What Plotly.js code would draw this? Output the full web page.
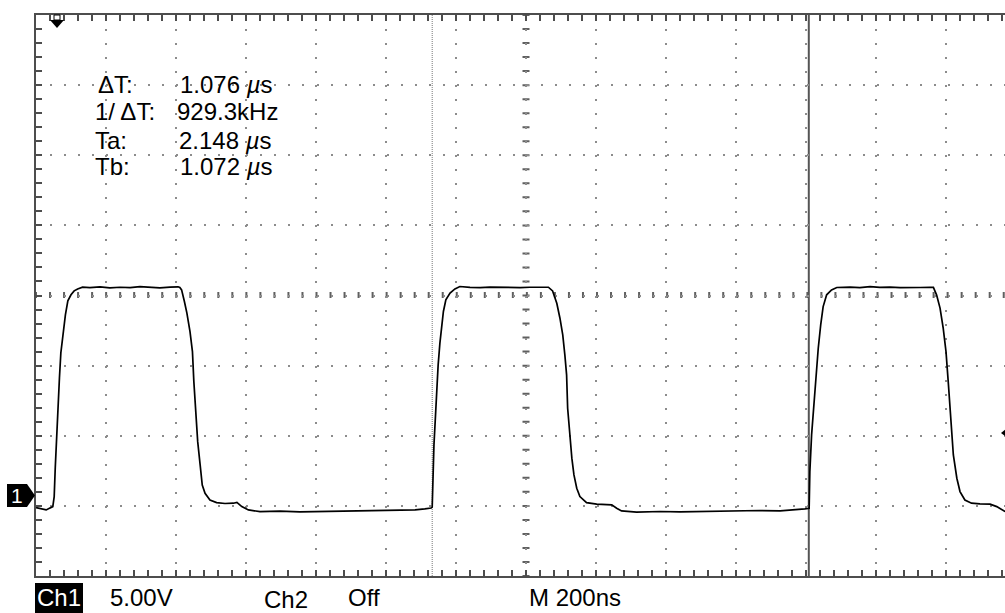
<!DOCTYPE html>
<html>
<head>
<meta charset="utf-8">
<script src="https://cdn.plot.ly/plotly-3.0.1.min.js"></script>
<style>
html,body{margin:0;padding:0;overflow:hidden;background:#fff;}
#chart{width:1025px;height:613px;}
</style>
</head>
<body>
<div id="chart"></div>
<script>
// ---- data (time in ns, Ch1 in volts) ----
var timeNs = [-60,-31,-12,-8,-5,-1,3,7,11,16,24,31,40,49,59,73,94,123,151,180,209,237,266,294,323,346,
  351,356,364,371,380,387,391,396,402,409,415,423,437,456,480,504,514,528,547,580,637,694,751,809,866,923,980,1023,1051,1069,
  1072,1074,1077,1082,1085,1089,1094,1099,1104,1111,1123,1137,1151,1180,1209,1237,1266,1294,1323,1351,1380,1397,
  1404,1416,1428,1437,1445,1451,1456,1459,1464,1471,1477,1485,1494,1513,1542,1566,1585,1599,1613,1656,1723,1780,1837,1894,1951,2009,2066,2109,2137,2149,
  2151,2156,2163,2169,2175,2182,2189,2199,2213,2228,2266,2294,2323,2351,2380,2409,2437,2466,2494,
  2504,2513,2523,2532,2540,2547,2553,2561,2571,2580,2594,2613,2637,2666,2685,2709];
var ch1Volts = [-0.91,-1.07,-0.83,-0.12,1.93,4.28,6.92,8.35,10.13,11.29,12.84,13.84,14.27,14.55,14.69,14.81,14.78,14.84,14.77,14.81,14.78,14.85,14.80,14.77,14.82,14.84,
  14.79,14.62,13.79,12.98,11.65,10.22,8.08,5.71,3.80,2.14,0.71,0.12,-0.36,-0.55,-0.61,-0.59,-0.53,-0.83,-1.07,-1.19,-1.16,-1.21,-1.18,-1.20,-1.14,-1.11,-1.11,-1.07,-1.00,-0.93,
  -0.86,1.43,3.57,5.94,7.85,9.27,10.82,12.13,13.08,13.91,14.39,14.69,14.86,14.80,14.78,14.82,14.79,14.81,14.78,14.81,14.79,14.82,
  14.81,14.55,13.67,12.60,11.41,9.99,8.56,6.18,4.52,2.62,1.43,0.48,-0.12,-0.55,-0.66,-0.68,-0.71,-0.95,-1.14,-1.23,-1.18,-1.21,-1.18,-1.20,-1.14,-1.11,-1.13,-1.07,-1.00,-0.95,
  1.66,4.28,6.66,8.56,10.46,12.13,13.43,14.27,14.62,14.79,14.82,14.78,14.85,14.80,14.82,14.78,14.81,14.79,14.81,
  14.80,14.27,13.32,11.89,10.22,7.85,5.47,2.85,1.19,0.24,-0.36,-0.59,-0.64,-0.66,-0.83,-1.19];

// cursor / readout values
var cursorTbNs = 1072;   // Tb
var cursorTaNs = 2148;   // Ta
var triggerTimeNs = 0;
var triggerLevelV = 4.42;
var readoutLabels = ['\u0394T:', '1/ \u0394T:', 'Ta:', 'Tb:'];
var readoutValues = ['1.076 <i>\u00b5</i>s', '929.3kHz', '2.148 <i>\u00b5</i>s', '1.072 <i>\u00b5</i>s'];
var statusTexts = ['Ch1', '5.00V', 'Ch2', 'Off', 'M 200ns'];

// ---- geometry (layout only) ----
var W = 1025, H = 613, L = 36, T = 15, B = 37;
var PW = W - L, PH = H - T - B;       // 989 x 561
var nsPerPx = 200 / 70;                // 200 ns per 70 px division
var voltsPerPx = 5 / (PH / 8);         // 5 V per division, 8 divisions
var xMin = -60, xMax = xMin + PW * nsPerPx;
var yMin = -5.78, yMax = yMin + PH * voltsPerPx;
function fx(px){ return (px - L) / PW; }
function fy(py){ return (T + PH - py) / PH; }
function tx(px){ return xMin + (px - L) * nsPerPx; }
var minorPx = PH / 40;                 // dot spacing
var dotDash = '2px,' + (minorPx - 2).toFixed(3) + 'px';

var FONT = 'Liberation Sans, Arial, Helvetica, sans-serif';

var trace = {
  x: timeNs, y: ch1Volts, type: 'scatter', mode: 'lines',
  line: {color: '#000000', width: 1.7}, hoverinfo: 'skip', showlegend: false
};

var annotations = [];
var rowsY = [85, 112, 140, 166];
var labelX = [96, 93, 93, 93];
var valueX = [178, 175, 177, 178];
for (var i = 0; i < readoutLabels.length; i++) {
  annotations.push({xref:'paper', yref:'paper', x: fx(labelX[i]), y: fy(rowsY[i]), xanchor:'left', yanchor:'middle',
    text: readoutLabels[i], showarrow:false, font:{family:FONT, size:24, color:'#000'}});
  annotations.push({xref:'paper', yref:'paper', x: fx(valueX[i]), y: fy(rowsY[i]), xanchor:'left', yanchor:'middle',
    text: readoutValues[i], showarrow:false, font:{family:FONT, size:24, color:'#000'}});
}
var statusX = [59, 108, 262, 346, 527];
var statusY = [597.5, 597.5, 599.5, 597.5, 597.5];
for (var j = 0; j < statusTexts.length; j++) {
  annotations.push({xref:'paper', yref:'paper', x: fx(statusX[j]), y: fy(statusY[j]),
    xanchor: j === 0 ? 'center' : 'left', yanchor:'middle', text: statusTexts[j], showarrow:false,
    font:{family:FONT, size:24, color: j === 0 ? '#fff' : '#000'}});
}
// ground marker "1"
annotations.push({xref:'paper', yref:'paper', x: fx(17), y: fy(495.5), xanchor:'center', yanchor:'middle',
  text:'1', showarrow:false, font:{family:FONT, size:21, color:'#fff'}});

var shapes = [
  // centre vertical graticule with dashes
  {type:'line', xref:'x', yref:'paper', x0: tx(526), x1: tx(526), y0: fy(14), y1: 0, layer:'below',
   line:{color:'#606060', width:7, dash: dotDash}},
  // centre horizontal graticule with ticks
  {type:'line', xref:'paper', yref:'paper', x0: fx(35), x1: 1, y0: fy(295), y1: fy(295), layer:'below',
   line:{color:'#606060', width:6, dash: dotDash}},
  // Tb cursor (dotted)
  {type:'line', xref:'x', yref:'paper', x0: cursorTbNs, x1: cursorTbNs, y0: 1, y1: 0, layer:'below',
   line:{color:'#777777', width:1, dash:'1px,1px'}},
  // Ta cursor (solid)
  {type:'line', xref:'x', yref:'paper', x0: cursorTaNs, x1: cursorTaNs, y0: 1, y1: 0, layer:'below',
   line:{color:'#555555', width:2}},
  // Ch1 status box
  {type:'rect', xref:'paper', yref:'paper', x0: fx(35), x1: fx(83), y0: fy(583), y1: fy(615),
   fillcolor:'#000', line:{width:0}},
  // ground reference marker
  {type:'path', xref:'paper', yref:'paper',
   path: 'M' + fx(7) + ',' + fy(484) + ' L' + fx(27) + ',' + fy(484) + ' L' + fx(35) + ',' + fy(495.5) +
         ' L' + fx(27) + ',' + fy(507) + ' L' + fx(7) + ',' + fy(507) + ' Z',
   fillcolor:'#000', line:{width:0}},
  // trigger position marker (top)
  {type:'path', xref:'paper', yref:'paper',
   path: 'M' + fx(50) + ',' + fy(20) + ' L' + fx(64) + ',' + fy(20) + ' L' + fx(57) + ',' + fy(28) + ' Z',
   fillcolor:'#000', line:{width:0}},
  {type:'rect', xref:'paper', yref:'paper', x0: fx(54), x1: fx(60), y0: fy(15), y1: fy(20),
   fillcolor:'rgba(0,0,0,0)', line:{color:'#000', width:1}},
  // trigger level marker (right)
  {type:'path', xref:'paper', yref:'y',
   path: 'M' + fx(1001) + ',' + triggerLevelV + ' L' + fx(1009) + ',' + (triggerLevelV + 0.45) +
         ' L' + fx(1009) + ',' + (triggerLevelV - 0.45) + ' Z',
   fillcolor:'#000', line:{width:0}}
];

var layout = {
  width: W, height: H,
  margin: {l: L, r: 0, t: T, b: B, pad: 0},
  paper_bgcolor: '#ffffff', plot_bgcolor: '#ffffff',
  showlegend: false,
  xaxis: {
    range: [xMin, xMax], autorange: false, fixedrange: true,
    tick0: xMin, dtick: 200, showticklabels: false,
    ticks: 'inside', ticklen: 6, tickwidth: 2, tickcolor: '#4d4d4d',
    minor: {tick0: xMin, dtick: 40, ticks: 'inside', ticklen: 6, tickwidth: 2, tickcolor: '#4d4d4d', showgrid: false},
    showgrid: true, gridcolor: '#8c8c8c', gridwidth: 2, griddash: dotDash,
    zeroline: false, showline: true, linecolor: '#4d4d4d', linewidth: 2, mirror: 'allticks'
  },
  yaxis: {
    range: [yMin, yMax], autorange: false, fixedrange: true,
    tick0: yMin, dtick: 5, showticklabels: false,
    ticks: 'inside', ticklen: 6, tickwidth: 2, tickcolor: '#4d4d4d',
    minor: {tick0: yMin, dtick: 1, ticks: 'inside', ticklen: 6, tickwidth: 2, tickcolor: '#4d4d4d', showgrid: false},
    showgrid: true, gridcolor: '#8c8c8c', gridwidth: 2, griddash: dotDash,
    zeroline: false, showline: true, linecolor: '#4d4d4d', linewidth: 2, mirror: 'allticks'
  },
  annotations: annotations,
  shapes: shapes
};

Plotly.newPlot('chart', [trace], layout, {staticPlot: true, displayModeBar: false, responsive: false});
</script>
</body>
</html>
